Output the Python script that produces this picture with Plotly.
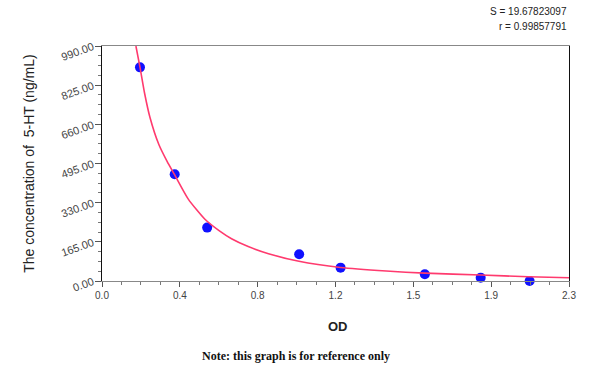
import plotly.graph_objects as go

# Standard points (OD vs concentration)
od_values = [0.187, 0.358, 0.518, 0.971, 1.175, 1.59, 1.865, 2.106]
conc_values = [900, 450, 225, 112.5, 56.25, 28.125, 14.06, 0]

# Fitted curve
curve_od = [0.167, 0.187, 0.21, 0.236, 0.28, 0.32, 0.358, 0.425, 0.507, 0.58, 0.638,
            0.72, 0.82, 0.97, 1.175, 1.4, 1.59, 1.865, 2.1, 2.3]
curve_conc = [990, 901, 790, 690, 575, 505, 447, 345, 260, 210, 178,
              145, 115, 83, 57, 42, 33, 25, 18, 14]

x_tick_vals = [0, 2.3/6, 2*2.3/6, 3*2.3/6, 4*2.3/6, 5*2.3/6, 2.3]
x_tick_text = ["0.0", "0.4", "0.8", "1.2", "1.5", "1.9", "2.3"]

stats_text = ["S = 19.67823097", "r = 0.99857791"]

fig = go.Figure()
fig.add_trace(go.Scatter(x=od_values, y=conc_values, mode="markers",
                         marker=dict(color="#1010ff", size=10),
                         cliponaxis=False, showlegend=False))
fig.add_trace(go.Scatter(x=curve_od, y=curve_conc, mode="lines",
                         line=dict(color="#ff3a6e", width=1.6, shape="spline", smoothing=0.6),
                         showlegend=False))

fig.update_layout(
    width=600, height=370,
    margin=dict(l=102, r=31, t=46, b=89),
    paper_bgcolor="white", plot_bgcolor="white",
    font=dict(family="Liberation Sans, Arial", color="#333"),
    xaxis=dict(range=[0, 2.3], tickvals=x_tick_vals, ticktext=x_tick_text,
               automargin=False,
               showgrid=False, zeroline=False,
               showline=True, linecolor="#888", linewidth=1, mirror=True,
               ticks="outside", ticklen=5, tickcolor="#555",
               tickfont=dict(size=10, color="#444"),
               minor=dict(dtick=2.3/24, ticks="outside", ticklen=3, tickcolor="#777")),
    yaxis=dict(range=[0, 990], dtick=165, tickformat=".2f", tickangle=-20,
               automargin=False,
               showgrid=False, zeroline=False,
               showline=True, linecolor="#111", linewidth=1, mirror=True,
               ticks="outside", ticklen=6, tickcolor="#555",
               tickfont=dict(size=11, color="#444"),
               minor=dict(dtick=41.25, ticks="outside", ticklen=3, tickcolor="#777")),
)

fig.add_annotation(xref="paper", yref="paper", x=-0.158, y=0.5,
                   textangle=-90, xanchor="center", yanchor="middle",
                   text="The concentration of  5-HT (ng/mL)", showarrow=False,
                   font=dict(size=14, color="#222"))
fig.add_annotation(xref="paper", yref="paper", x=0.505, y=0, yshift=-45,
                   xanchor="center", yanchor="middle",
                   text="<b>OD</b>", showarrow=False,
                   font=dict(size=13, color="#222"))
fig.add_annotation(xref="paper", yref="paper", x=1.0, y=1.0, yshift=27,
                   xanchor="right", yanchor="bottom",
                   text=stats_text[0], showarrow=False,
                   font=dict(size=10, color="#222"))
fig.add_annotation(xref="paper", yref="paper", x=1.0, y=1.0, yshift=12,
                   xanchor="right", yanchor="bottom",
                   text=stats_text[1], showarrow=False,
                   font=dict(size=10, color="#222"))
fig.add_annotation(xref="paper", yref="paper", x=0.415, y=0, yshift=-75,
                   xanchor="center", yanchor="middle",
                   text="<b>Note: this graph is for reference only</b>", showarrow=False,
                   font=dict(size=12, color="#111", family="Liberation Serif, Times New Roman"))

fig.write_html("out.html", config={"displayModeBar": False},
               post_script="document.body.style.margin='0';")
